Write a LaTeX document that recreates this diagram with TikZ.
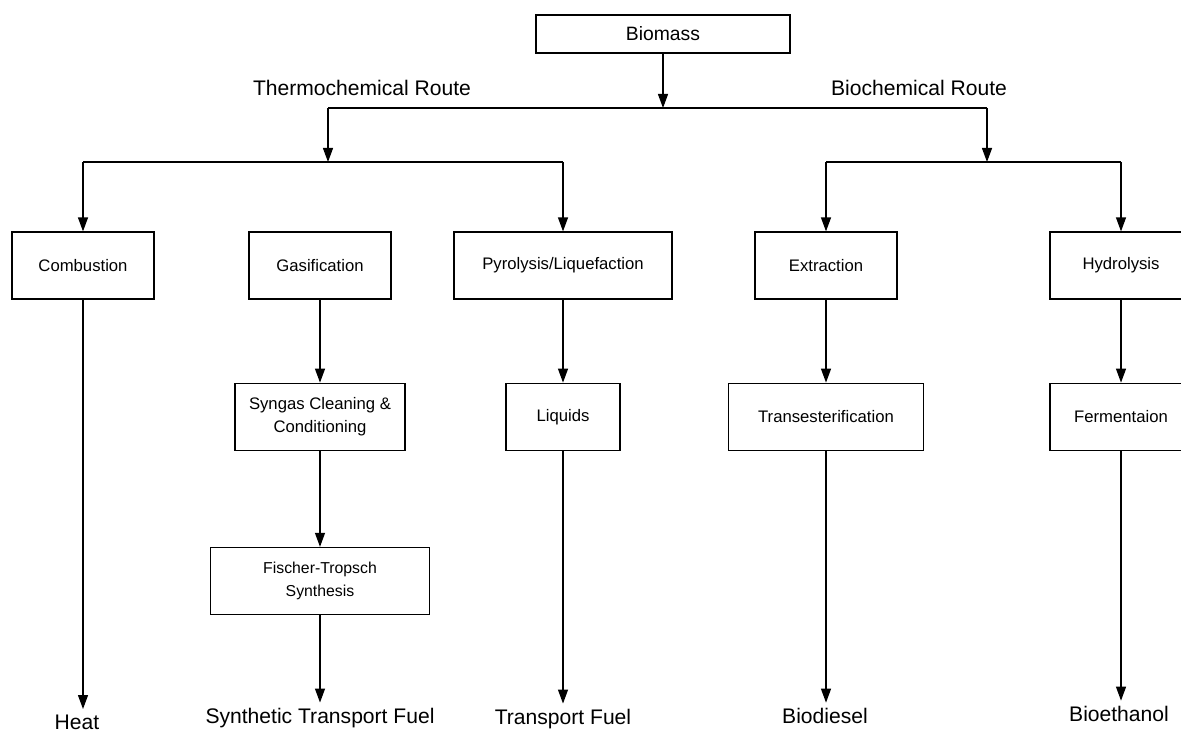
\documentclass[tikz,border=0pt]{standalone}
\usepackage{fontspec}
\setmainfont{Liberation Sans}
\usepackage{tikz}
\usetikzlibrary{arrows.meta, positioning}

\begin{document}
\begin{tikzpicture}[
        node distance=1.66cm,
        stage/.style={rectangle, draw=black, line width=0.7pt, minimum width=2.84cm, minimum height=1.34cm, align=center, inner sep=1pt, font=\fontsize{9.5}{13}\selectfont},
        route/.style={font=\fontsize{12}{14}\selectfont},
        product/.style={font=\fontsize{12}{14}\selectfont, inner sep=3pt},
        arrow/.style={-{Triangle[length=2.8mm, width=2mm]}, line width=0.7pt, draw=black},
        link/.style={line width=0.7pt, draw=black},
    ]
        \useasboundingbox (0,0) rectangle (23.62,-14.64);

        % Feedstock
        \node[stage, minimum width=5.08cm, minimum height=0.76cm, font=\fontsize{11}{13}\selectfont] (biomass) at (13.26,-0.68) {Biomass};
        \node[route] (thermolbl) at (7.24,-1.76) {Thermochemical Route};
        \node[route] (biolbl) at (18.38,-1.76) {Biochemical Route};

        % Split points
        \coordinate (tsplit) at (6.56,-2.16);
        \coordinate (bsplit) at (19.74,-2.16);
        \coordinate (tbar) at (6.56,-3.24);
        \coordinate (bbar) at (19.74,-3.24);

        % First processes
        \node[stage] (comb) at (1.66,-5.31) {Combustion};
        \node[stage] (gasif) at (6.40,-5.31) {Gasification};
        \node[stage, minimum width=4.36cm] (pyro) at (11.26,-5.31) {Pyrolysis/Liquefaction};
        \node[stage] (extr) at (16.52,-5.31) {Extraction};
        \node[stage] (hydro) at (22.42,-5.31) {Hydrolysis};

        % Second processes
        \node[stage, minimum width=3.4cm, below=of gasif] (syngas) {Syngas Cleaning \&\\Conditioning};
        \node[stage, minimum width=2.28cm, below=of pyro] (liquids) {Liquids};
        \node[stage, minimum width=3.9cm, below=of extr] (trans) {Transesterification};
        \node[stage, below=of hydro] (ferm) {Fermentaion};
        \node[stage, minimum width=4.38cm, below=1.92cm of syngas, font=\fontsize{9}{13}\selectfont] (ft) {Fischer-Tropsch\\Synthesis};

        % Products
        \node[product] (heat) at (1.54,-14.44) {Heat};
        \node[product] (stf) at (6.40,-14.36) {Synthetic Transport Fuel};
        \node[product] (tf) at (11.26,-14.38) {Transport Fuel};
        \node[product] (biodiesel) at (16.50,-14.32) {Biodiesel};
        \node[product] (bioethanol) at (22.38,-14.28) {Bioethanol};

        % Arrows
        \draw[link] (tsplit) -- (bsplit);
        \draw[arrow] (biomass) -- (biomass |- tsplit);
        \draw[arrow] (tsplit) -- (tbar);
        \draw[arrow] (bsplit) -- (bbar);
        \draw[link] (comb.north |- tbar) -- (pyro.north |- tbar);
        \draw[link] (extr.north |- bbar) -- (hydro.north |- bbar);
        \draw[arrow] (comb.north |- tbar) -- (comb);
        \draw[arrow] (pyro.north |- tbar) -- (pyro);
        \draw[arrow] (extr.north |- bbar) -- (extr);
        \draw[arrow] (hydro.north |- bbar) -- (hydro);
        \draw[arrow] (gasif) -- (syngas);
        \draw[arrow] (syngas) -- (ft);
        \draw[arrow] (pyro) -- (liquids);
        \draw[arrow] (extr) -- (trans);
        \draw[arrow] (hydro) -- (ferm);
        \draw[arrow] (comb.south) -- (comb.south |- heat.north);
        \draw[arrow] (ft) -- (stf);
        \draw[arrow] (liquids) -- (tf);
        \draw[arrow] (trans.south) -- (trans.south |- biodiesel.north);
        \draw[arrow] (ferm.south) -- (ferm.south |- bioethanol.north);
    \end{tikzpicture}
\end{document}
